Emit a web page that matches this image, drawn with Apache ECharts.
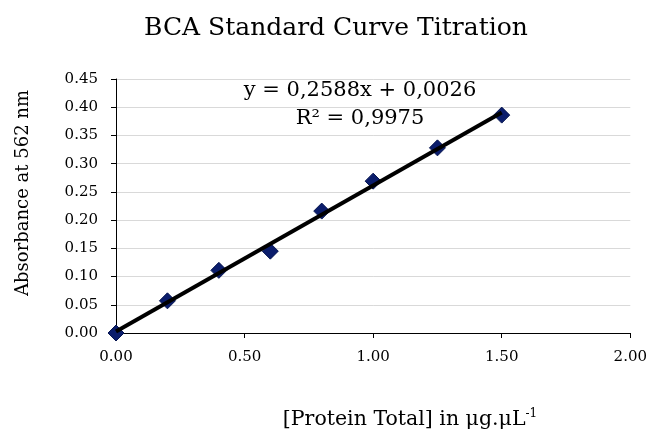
<!DOCTYPE html>
<html>
<head>
<meta charset="utf-8">
<script src="https://cdn.jsdelivr.net/npm/echarts@6/dist/echarts.min.js"></script>
<style>
html,body{margin:0;padding:0;background:#fff;}
#chart{width:650px;height:431px;}
</style>
</head>
<body>
<div id="chart"></div>
<script>
// Data
const concentrations = [0.00, 0.20, 0.40, 0.60, 0.80, 1.00, 1.25, 1.50];
const absorbances    = [0.000, 0.057, 0.111, 0.145, 0.216, 0.269, 0.328, 0.386];
const trendSlope = 0.2588;
const trendIntercept = 0.0026;
const trendRange = [0.00, 1.50];
const equationText = 'y = 0,2588x + 0,0026';
const r2Text = 'R² = 0,9975';
const titleText = 'BCA Standard Curve Titration';
const xTitle = '[Protein Total] in μg.μL';
const xTitleSup = '-1';
const yTitle = 'Absorbance at 562 nm';

const FONT = '"DejaVu Serif", "Liberation Serif", serif';
const points = concentrations.map((c, i) => [c, absorbances[i]]);
const trend = trendRange.map(x => [x, trendSlope * x + trendIntercept]);

const chart = echarts.init(document.getElementById('chart'));
chart.setOption({
  animation: false,
  backgroundColor: '#fff',
  textStyle: { fontFamily: FONT },
  grid: { left: 116, right: 19, top: 79, bottom: 98 },
  xAxis: {
    type: 'value', min: 0, max: 2, interval: 0.5,
    axisLine: { show: true, lineStyle: { color: '#000', width: 1 } },
    axisTick: { show: true, length: 5, lineStyle: { color: '#000' } },
    splitLine: { show: false },
    axisLabel: { color: '#000', fontFamily: FONT, fontSize: 15, margin: 17,
      formatter: v => v.toFixed(2) }
  },
  yAxis: {
    type: 'value', min: 0, max: 0.45, interval: 0.05,
    axisLine: { show: true, lineStyle: { color: '#000', width: 1 } },
    axisTick: { show: true, length: 5, lineStyle: { color: '#000' } },
    splitLine: { show: true, lineStyle: { color: '#d9d9d9', width: 1 } },
    axisLabel: { color: '#000', fontFamily: FONT, fontSize: 15, margin: 18,
      formatter: v => v.toFixed(2) }
  },
  graphic: [
    { type: 'text', x: 336, y: 28,
      style: { text: titleText, font: '25px ' + FONT, fill: '#000', textAlign: 'center', textVerticalAlign: 'middle' } },
    { type: 'text', x: 23, y: 193, rotation: Math.PI / 2,
      style: { text: yTitle, font: '18px ' + FONT, fill: '#000', textAlign: 'center', textVerticalAlign: 'middle' } },
    { type: 'text', x: 410, y: 420,
      style: {
        text: '{m|' + xTitle + '}{s|' + xTitleSup + '}',
        fill: '#000', textAlign: 'center', textVerticalAlign: 'middle',
        rich: {
          m: { fontFamily: FONT, fontSize: 20.5, color: '#000', lineHeight: 24 },
          s: { fontFamily: FONT, fontSize: 12, color: '#000', verticalAlign: 'top', lineHeight: 24 }
        }
      } },
    { type: 'text', x: 360, y: 91,
      style: { text: equationText, font: '21px ' + FONT, fill: '#000', textAlign: 'center', textVerticalAlign: 'middle' } },
    { type: 'text', x: 360, y: 119,
      style: { text: r2Text, font: '21px ' + FONT, fill: '#000', textAlign: 'center', textVerticalAlign: 'middle' } }
  ],
  series: [
    {
      type: 'scatter', data: points, symbol: 'diamond', symbolSize: 16,
      itemStyle: { color: '#0b1d6c', opacity: 1, borderColor: '#061550', borderWidth: 1 }, z: 2
    },
    {
      type: 'line', data: trend, symbol: 'none', z: 3,
      lineStyle: { color: '#000', width: 4 }
    }
  ]
});
</script>
</body>
</html>
